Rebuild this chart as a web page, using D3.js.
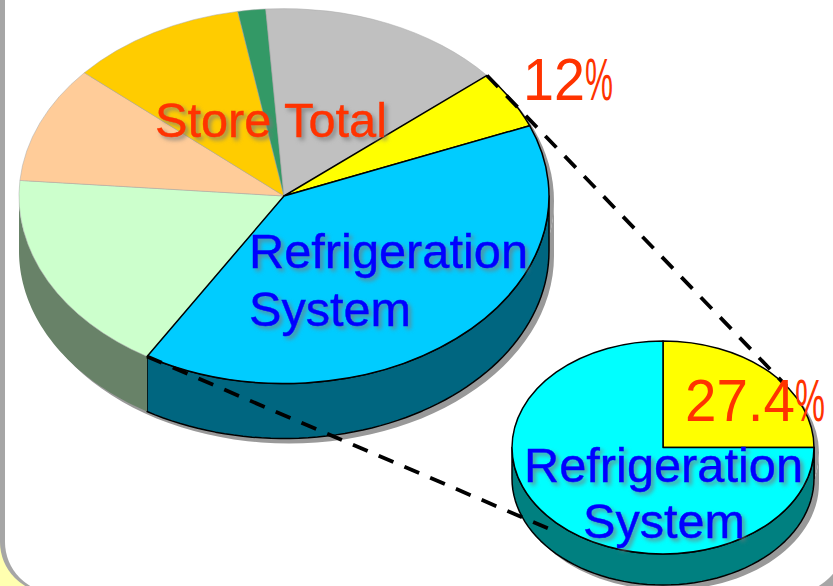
<!DOCTYPE html>
<html>
<head>
<meta charset="UTF-8">
<title>Store Total pie</title>
<script src="https://cdn.jsdelivr.net/npm/d3@7"></script>
<style>
    html, body { margin: 0; padding: 0; background: #fff; }
    svg { display: block; }
    text { font-family: "Liberation Sans", Arial, sans-serif; }
    .soft { filter: drop-shadow(3px 3px 2px rgba(120, 120, 120, 0.75)); }
</style>
</head>
<body>
<script>
// big pie, clockwise from the yellow slice
var storeNames = ["Refrigeration share", "Refrigeration System", "Slice C", "Slice D", "Slice E", "Slice F", "Slice G"];
var storeValues = [5, 39.8, 17.7, 10.1, 10.8, 1.7, 15];
var storeColors = ["#ffff00", "#00ccff", "#ccffcc", "#ffcc99", "#ffcc00", "#339966", "#c0c0c0"];
var storeWalls = ["#808000", "#006680", "#688268", "#806650", "#806600", "#1a4d33", "#606060"];

// small pie
var detailNames = ["Share", "Rest"];
var detailValues = [25, 75];
var detailColors = ["#ffff00", "#00ffff"];
var detailWalls = ["#808000", "#008080"];

var width = 833, height = 586;

var svg = d3.select("body").append("svg")
    .attr("width", width)
    .attr("height", height);

// page background with the rounded panel
svg.append("rect").attr("width", width).attr("height", height).attr("fill", "#ffffb0");
svg.append("rect").attr("x", 0).attr("y", -60).attr("width", width + 60).attr("height", 653)
    .attr("rx", 51).attr("fill", "#a6a6a6");
svg.append("rect").attr("x", 5).attr("y", -60).attr("width", 839).attr("height", 653)
    .attr("rx", 51).attr("fill", "#fff");

// point on the ellipse, angle clockwise from 12 o'clock
function project(p, a, dy) {
    return [p.cx + p.rx * Math.sin(a), p.cy - p.ry * Math.cos(a) + (dy || 0)];
}

// outer side of a slice, only the part facing the viewer
function wallPath(p, a0, a1) {
    var from = Math.max(a0, Math.PI / 2), to = Math.min(a1, Math.PI * 1.5);
    if (from >= to) return null;
    var steps = d3.range(0, 61).map(function (i) { return from + (to - from) * i / 60; });
    var top = steps.map(function (a) { return project(p, a, 0); });
    var bottom = steps.slice().reverse().map(function (a) { return project(p, a, p.depth); });
    return d3.line()(top.concat(bottom)) + "Z";
}

function drawPie(p, names, values, colors, walls, startAngle, edged) {
    var pie = d3.pie().sort(null).startAngle(startAngle).endAngle(startAngle + Math.PI * 2);
    var slices = pie(values);
    slices.forEach(function (d, i) { d.name = names[i]; });

    var color = d3.scaleOrdinal().domain(names).range(colors);
    var wall = d3.scaleOrdinal().domain(names).range(walls);
    var g = svg.append("g");

    // hard shadow behind the whole disc
    var sh = g.append("g").attr("transform", "translate(" + p.shadow + "," + p.shadow + ")").attr("fill", "#999");
    sh.append("ellipse").attr("cx", p.cx).attr("cy", p.cy).attr("rx", p.rx).attr("ry", p.ry);
    sh.append("path").attr("d", wallPath(p, Math.PI / 2, Math.PI * 1.5));

    g.selectAll(".wall")
        .data(slices.filter(function (d) { return wallPath(p, d.startAngle, d.endAngle); }))
        .enter().append("path")
        .attr("class", "wall")
        .attr("d", function (d) { return wallPath(p, d.startAngle, d.endAngle); })
        .attr("fill", function (d) { return wall(d.name); })
        .attr("stroke", function (d) { return edged(d.name) ? "#000" : "none"; })
        .attr("stroke-width", 1.5)
        .attr("stroke-linejoin", "round");

    var arc = d3.arc().innerRadius(0).outerRadius(p.rx);
    var face = g.append("g")
        .attr("transform", "translate(" + p.cx + "," + p.cy + ") scale(1," + (p.ry / p.rx) + ")");

    // plain slices first so black edges stay on top
    var ordered = slices.slice().sort(function (a, b) { return edged(a.name) - edged(b.name); });
    face.selectAll(".slice")
        .data(ordered)
        .enter().append("path")
        .attr("class", "slice")
        .attr("d", arc)
        .attr("fill", function (d) { return color(d.name); })
        .attr("stroke", function (d) { return edged(d.name) ? "#000" : "#a8a8a8"; })
        .attr("stroke-width", function (d) { return edged(d.name) ? 1.5 : 0.5; })
        .attr("stroke-linejoin", "round")
        .style("vector-effect", "non-scaling-stroke");

    return slices;
}

var bigPie = { cx: 284, cy: 196, rx: 265, ry: 187.5, depth: 55, shadow: 5 };
var smallPie = { cx: 663, cy: 447.5, rx: 151, ry: 106.5, depth: 31, shadow: 5 };

var bigSlices = drawPie(bigPie, storeNames, storeValues, storeColors, storeWalls, 50 * Math.PI / 180,
    function (n) { return n === storeNames[0] || n === storeNames[1]; });
drawPie(smallPie, detailNames, detailValues, detailColors, detailWalls, 0,
    function () { return true; });

// dashed connectors between the two pies
var connectors = [
    [project(bigPie, bigSlices[0].startAngle), project(smallPie, 55 * Math.PI / 180)],
    [project(bigPie, bigSlices[1].endAngle), [552, 530]]
];
svg.selectAll(".connector")
    .data(connectors)
    .enter().append("path")
    .attr("class", "connector")
    .attr("d", d3.line())
    .attr("fill", "none")
    .attr("stroke", "#000")
    .attr("stroke-width", 3.8)
    .attr("stroke-dasharray", "16 12");

// word labels, stretched to the widths in the picture
var labels = [
    { t: "Store Total", x: 155, y: 137, c: "#ff3300", w: 232 },
    { t: "Refrigeration", x: 249, y: 268, c: "#0000ff", w: 279 },
    { t: "System", x: 249, y: 326, c: "#0000ff", w: 162 },
    { t: "Refrigeration", x: 524, y: 482, c: "#0000ff", w: 279 },
    { t: "System", x: 583, y: 538, c: "#0000ff", w: 162 }
];
svg.selectAll(".label")
    .data(labels)
    .enter().append("text")
    .attr("class", "label soft")
    .attr("x", function (d) { return d.x; })
    .attr("y", function (d) { return d.y; })
    .attr("fill", function (d) { return d.c; })
    .attr("stroke", function (d) { return d.c; })
    .attr("stroke-width", 0.4)
    .attr("font-size", 48)
    .attr("textLength", function (d) { return d.w; })
    .attr("lengthAdjust", "spacingAndGlyphs")
    .text(function (d) { return d.t; });

// percent labels: wide digits, narrow % sign
var percents = [
    { t: "12", x: 523, y: 100, w: 62, pw: 28 },
    { t: "27.4", x: 685, y: 421, w: 110, pw: 30 }
];
var pct = svg.selectAll(".percent")
    .data(percents)
    .enter().append("text")
    .attr("class", "percent")
    .attr("x", function (d) { return d.x; })
    .attr("y", function (d) { return d.y; })
    .attr("fill", "#ff3300")
    .attr("font-size", 60);
pct.append("tspan")
    .attr("textLength", function (d) { return d.w; })
    .attr("lengthAdjust", "spacingAndGlyphs")
    .text(function (d) { return d.t; });
pct.append("tspan")
    .attr("textLength", function (d) { return d.pw; })
    .attr("lengthAdjust", "spacingAndGlyphs")
    .text("%");
</script>
</body>
</html>
